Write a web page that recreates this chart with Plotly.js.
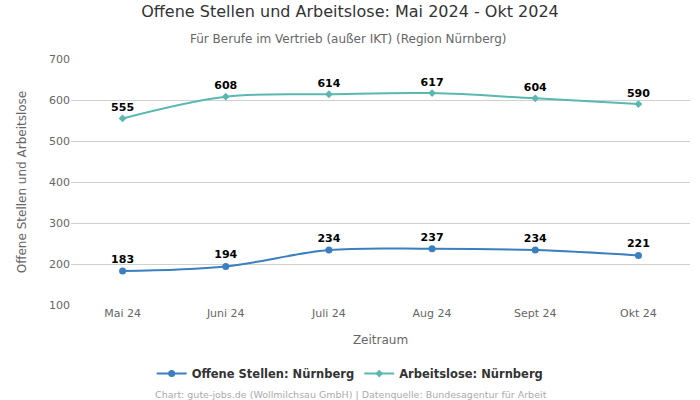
<!DOCTYPE html>
<html><head><meta charset="utf-8">
<script src="https://cdn.plot.ly/plotly-3.0.1.min.js"></script>
<style>body{margin:0}#c{width:700px;height:400px}</style>
</head><body><div id="c"></div>
<script>
const months = ["Mai 24","Juni 24","Juli 24","Aug 24","Sept 24","Okt 24"];
const offeneStellen = [183,194,234,237,234,221];
const arbeitslose = [555,608,614,617,604,590];
const F = "DejaVu Sans, sans-serif";
const traces = [
 {x:months,y:offeneStellen,name:"Offene Stellen: Nürnberg",mode:"lines+markers+text",
  line:{color:"#3a7fbf",width:2,shape:"spline"},marker:{color:"#3a7fbf",size:7,symbol:"circle"},
  text:offeneStellen.map(String),textposition:"top center",textfont:{family:F,size:11,color:"#000",weight:"bold"},cliponaxis:false},
 {x:months,y:arbeitslose,name:"Arbeitslose: Nürnberg",mode:"lines+markers+text",
  line:{color:"#5ab8b0",width:2,shape:"spline"},marker:{color:"#5ab8b0",size:6,symbol:"diamond"},
  text:arbeitslose.map(String),textposition:"top center",textfont:{family:F,size:11,color:"#000",weight:"bold"},cliponaxis:false}
];
const layout = {
 width:700,height:400,paper_bgcolor:"#fff",plot_bgcolor:"#fff",
 font:{family:F,color:"#666",size:11},
 margin:{l:71,r:10,t:59,b:95},
 title:{text:"Offene Stellen und Arbeitslose: Mai 2024 - Okt 2024",x:0.5,xanchor:"center",y:0.985,yanchor:"top",font:{family:F,size:16,color:"#333"}},
 xaxis:{type:"category",range:[-0.5,5.5],showgrid:false,zeroline:false,showline:false,ticks:"",
  tickfont:{family:F,size:11,color:"#666"},title:{text:"Zeitraum",font:{family:F,size:12,color:"#666"},standoff:16}},
 yaxis:{range:[100,700],dtick:100,gridcolor:"#d0d0d0",zeroline:false,showline:false,ticks:"",
  tickfont:{family:F,size:11,color:"#666"},title:{text:"Offene Stellen und Arbeitslose",font:{family:F,size:12,color:"#666"},standoff:19}},
 legend:{orientation:"h",x:0.451,xanchor:"center",y:-0.22,yanchor:"top",font:{family:F,size:11.5,color:"#333",weight:"bold"}},
 showlegend:true,
 annotations:[
  {text:"Für Berufe im Vertrieb (außer IKT) (Region Nürnberg)",xref:"paper",yref:"paper",x:0.5,y:1.0,yanchor:"bottom",xanchor:"center",yshift:11,showarrow:false,font:{family:F,size:12,color:"#666"},xshift:-32},
  {text:"Chart: gute-jobs.de (Wollmilchsau GmbH) | Datenquelle: Bundesagentur für Arbeit",xref:"paper",yref:"paper",x:0.5,xanchor:"center",y:-0.335,yanchor:"top",showarrow:false,font:{family:F,size:9.5,color:"#aaa"},xshift:-30}
 ]
};
Plotly.newPlot("c",traces,layout,{displayModeBar:false});
</script></body></html>
